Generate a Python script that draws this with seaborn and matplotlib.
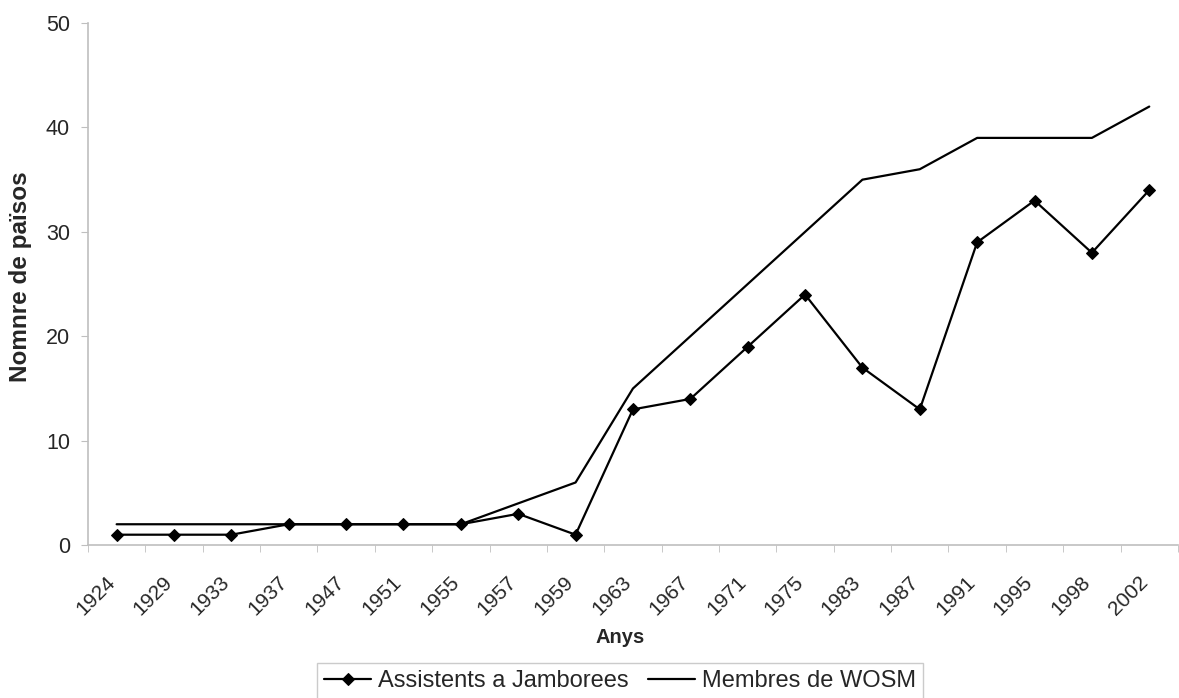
import numpy as np
import pandas as pd
import seaborn as sns
import matplotlib.pyplot as plt

# ---------------------------------------
# Data
# ---------------------------------------
years = ['1924', '1929', '1933', '1937', '1947', '1951', '1955', '1957', '1959', '1963',
         '1967', '1971', '1975', '1983', '1987', '1991', '1995', '1998', '2002']
jamborees = [1, 1, 1, 2, 2, 2, 2, 3, 1, 13, 14, 19, 24, 17, 13, 29, 33, 28, 34]
wosm = [2, 2, 2, 2, 2, 2, 2, 4, 6, 15, 20, 25, 30, 35, 36, 39, 39, 39, 42]

df = pd.DataFrame({'any': years, 'jamborees': jamborees, 'wosm': wosm})

# ---------------------------------------
# Styling
# ---------------------------------------
sns.set_style("white")
plt.rcParams['font.family'] = ['Liberation Sans', 'DejaVu Sans']

fig = plt.figure(figsize=(11.79, 6.98), dpi=100)
ax = fig.add_axes([0.0746, 0.219, 0.9245, 0.748])

# ---------------------------------------
# Lines
# ---------------------------------------
sns.lineplot(data=df, x='any', y='jamborees', ax=ax, color='black', linewidth=1.6,
             marker='D', markersize=6.5, markeredgecolor='black',
             label='Assistents a Jamborees', sort=False)
sns.lineplot(data=df, x='any', y='wosm', ax=ax, color='black', linewidth=1.6,
             label='Membres de WOSM', sort=False)

# ---------------------------------------
# Axes
# ---------------------------------------
n = len(years)
ax.set_xlim(-0.5, n - 0.5)
ax.set_ylim(0, 50)
ax.set_yticks([0, 10, 20, 30, 40, 50])
# labels sit a little left of the category centre, as in Excel
ax.set_xticks(np.arange(n) - 0.2)
ax.set_xticklabels(years, rotation=45, ha='right', va='top', rotation_mode='anchor')
ax.set_xticks(np.arange(n + 1) - 0.5, minor=True)
ax.tick_params(axis='x', which='major', length=0, pad=20, labelsize=15)
ax.tick_params(axis='x', which='minor', length=5, color='#bfbfbf', direction='out')
ax.tick_params(axis='y', length=5, color='#bfbfbf', direction='out', labelsize=15.5, pad=8)
ax.tick_params(bottom=True, left=True, which='both')

for side in ['top', 'right']:
    ax.spines[side].set_visible(False)
for side in ['left', 'bottom']:
    ax.spines[side].set_color('#bfbfbf')
    ax.spines[side].set_linewidth(1.2)

ax.set_xlabel("Anys", fontsize=14.5, fontweight='bold')
ax.xaxis.set_label_coords(0.488, -0.158)
ax.set_ylabel("Nomnre de països", fontsize=17.5, fontweight='bold')
ax.yaxis.set_label_coords(-0.051, 0.515)

# ---------------------------------------
# Legend
# ---------------------------------------
leg = ax.legend(loc='upper center', bbox_to_anchor=(0.526, 0.05),
                bbox_transform=fig.transFigure, ncol=2, fontsize=17,
                frameon=True, fancybox=False, edgecolor='#bfbfbf',
                handlelength=2.0, columnspacing=0.8, handletextpad=0.3,
                borderpad=0.3, borderaxespad=0)
leg.get_frame().set_linewidth(1.0)

# ---------------------------------------
# Save Output
# ---------------------------------------
plt.savefig('out.png', dpi=100)
plt.close()
